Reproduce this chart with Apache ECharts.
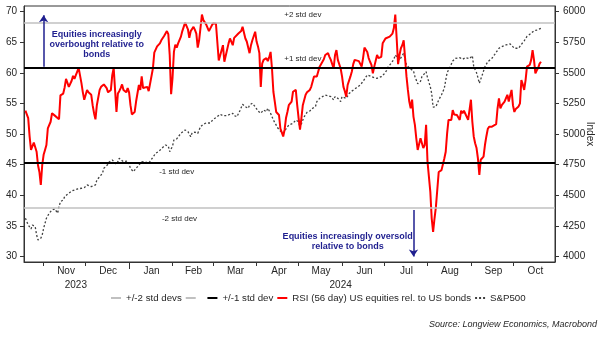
<!DOCTYPE html>
<html>
<head>
<meta charset="utf-8">
<script src="https://cdn.jsdelivr.net/npm/echarts@6/dist/echarts.min.js"></script>
<style>
  html, body { margin: 0; padding: 0; background: #ffffff; }
  #chart { width: 602px; height: 338px; }
</style>
</head>
<body>
<div id="chart"></div>
<script>
// RSI (56 day) of US equities relative to US bonds, left axis
const rsiDates = [
  '2023-10-19','2023-10-21','2023-10-22','2023-10-23','2023-10-25','2023-10-26','2023-10-27','2023-10-28','2023-10-29','2023-10-30','2023-10-31',
  '2023-11-01','2023-11-02','2023-11-03','2023-11-04','2023-11-05','2023-11-06','2023-11-07','2023-11-09','2023-11-10','2023-11-12','2023-11-13','2023-11-14','2023-11-15','2023-11-16','2023-11-17','2023-11-19','2023-11-20','2023-11-21','2023-11-22','2023-11-23','2023-11-24','2023-11-25','2023-11-26','2023-11-28','2023-11-29','2023-11-30',
  '2023-12-02','2023-12-03','2023-12-05','2023-12-06','2023-12-07','2023-12-08','2023-12-09','2023-12-11','2023-12-12','2023-12-14','2023-12-15','2023-12-16','2023-12-17','2023-12-19','2023-12-20','2023-12-21','2023-12-22','2023-12-23','2023-12-24','2023-12-25','2023-12-26','2023-12-27','2023-12-28','2023-12-30','2023-12-31',
  '2024-01-01','2024-01-02','2024-01-03','2024-01-05','2024-01-06','2024-01-08','2024-01-09','2024-01-10','2024-01-11','2024-01-12','2024-01-14','2024-01-15','2024-01-16','2024-01-18','2024-01-19','2024-01-20','2024-01-21','2024-01-23','2024-01-24','2024-01-26','2024-01-28','2024-01-29','2024-01-30','2024-01-31',
  '2024-02-01','2024-02-02','2024-02-03','2024-02-04','2024-02-05','2024-02-07','2024-02-08','2024-02-09','2024-02-10','2024-02-12','2024-02-13','2024-02-14','2024-02-16','2024-02-17','2024-02-18','2024-02-19','2024-02-20','2024-02-22','2024-02-23','2024-02-25','2024-02-26','2024-02-27','2024-02-29',
  '2024-03-01','2024-03-03','2024-03-05','2024-03-06','2024-03-08','2024-03-09','2024-03-10','2024-03-12','2024-03-13','2024-03-15','2024-03-16','2024-03-17','2024-03-19','2024-03-21','2024-03-22','2024-03-24','2024-03-25','2024-03-27','2024-03-28','2024-03-29','2024-03-31',
  '2024-04-01','2024-04-02','2024-04-03','2024-04-04','2024-04-05','2024-04-06','2024-04-08','2024-04-09','2024-04-10','2024-04-11','2024-04-12','2024-04-13','2024-04-14','2024-04-15','2024-04-17','2024-04-18','2024-04-20','2024-04-21','2024-04-22','2024-04-23','2024-04-24','2024-04-26','2024-04-27','2024-04-29','2024-04-30',
  '2024-05-01','2024-05-02','2024-05-03','2024-05-04','2024-05-06','2024-05-07','2024-05-09','2024-05-10','2024-05-12','2024-05-13','2024-05-14','2024-05-16','2024-05-17','2024-05-19','2024-05-20','2024-05-22','2024-05-23','2024-05-24','2024-05-26','2024-05-27','2024-05-28','2024-05-29','2024-05-31',
  '2024-06-01','2024-06-02','2024-06-03','2024-06-04','2024-06-05','2024-06-07','2024-06-08','2024-06-09','2024-06-10','2024-06-11','2024-06-13','2024-06-14','2024-06-15','2024-06-16','2024-06-17','2024-06-19','2024-06-20','2024-06-21','2024-06-22','2024-06-23','2024-06-24','2024-06-26','2024-06-27','2024-06-28','2024-06-29','2024-06-30',
  '2024-07-02','2024-07-03','2024-07-05','2024-07-07','2024-07-08','2024-07-09','2024-07-10','2024-07-11','2024-07-12','2024-07-13','2024-07-14','2024-07-15','2024-07-16','2024-07-17','2024-07-18','2024-07-19','2024-07-20','2024-07-21','2024-07-22','2024-07-23','2024-07-24','2024-07-25','2024-07-27','2024-07-28','2024-07-29','2024-07-30','2024-07-31',
  '2024-08-01','2024-08-03','2024-08-04','2024-08-05','2024-08-06','2024-08-07','2024-08-08','2024-08-09','2024-08-11','2024-08-12','2024-08-13','2024-08-14','2024-08-15','2024-08-16','2024-08-18','2024-08-19','2024-08-20','2024-08-21','2024-08-22','2024-08-24','2024-08-25','2024-08-26','2024-08-27','2024-08-28','2024-08-30','2024-08-31',
  '2024-09-01','2024-09-02','2024-09-03','2024-09-04','2024-09-05','2024-09-06','2024-09-07','2024-09-08','2024-09-09','2024-09-10','2024-09-11','2024-09-12','2024-09-13','2024-09-14','2024-09-16','2024-09-17','2024-09-19','2024-09-20','2024-09-21','2024-09-22','2024-09-23','2024-09-24','2024-09-25','2024-09-27','2024-09-28','2024-09-29','2024-09-30',
  '2024-10-01','2024-10-02','2024-10-03','2024-10-05','2024-10-06','2024-10-07','2024-10-08','2024-10-09','2024-10-10','2024-10-11','2024-10-12','2024-10-13','2024-10-14','2024-10-15','2024-10-16','2024-10-17','2024-10-18','2024-10-19','2024-10-20','2024-10-21'
];
const rsiValues = [
  53.8,52.6,49.6,47.4,48.6,48.5,47.1,44.9,43.8,41.7,44.9,
  46.6,47.4,48.2,50.9,51.2,52.0,53.4,53.0,52.7,52.4,56.3,56.4,56.6,57.6,59.0,57.7,58.0,58.7,59.5,59.0,59.6,60.2,60.8,58.3,56.8,55.6,
  57.2,56.8,56.4,54.7,53.4,52.4,54.7,57.2,57.7,58.1,58.3,57.5,56.8,57.2,59.6,60.8,57.2,53.6,56.6,57.0,57.5,58.1,57.2,56.8,57.5,
  56.8,54.7,53.2,53.6,55.3,58.0,57.2,59.4,57.5,57.2,57.7,57.0,57.3,60.7,63.3,63.0,64.3,64.8,65.3,66.0,66.8,66.3,62.9,56.5,
  59.1,63.4,64.6,64.1,64.8,65.9,66.8,67.5,68.2,67.1,65.7,66.8,67.5,67.0,66.4,64.1,65.3,69.5,68.6,67.9,68.1,66.8,67.7,
  68.1,68.0,62.0,61.9,64.5,61.8,61.8,64.8,65.6,64.5,65.7,66.0,66.4,66.8,67.5,65.6,65.1,63.2,64.5,65.3,66.7,
  65.1,64.3,63.2,57.7,61.5,62.1,62.4,61.9,62.5,63.4,60.7,56.9,55.3,53.6,53.1,50.9,49.6,50.7,52.6,53.6,54.7,55.3,56.9,57.2,54.7,
  52.6,50.7,52.6,54.7,56.4,56.8,57.2,57.7,59.4,59.6,59.4,61.0,61.3,62.2,62.9,63.2,62.6,62.1,60.7,62.9,63.7,62.1,60.7,
  59.4,57.7,57.0,56.1,58.0,59.4,60.2,61.4,62.1,61.8,61.9,61.7,61.0,62.4,64.1,63.4,62.4,61.8,61.3,59.9,61.0,62.9,62.4,62.1,62.6,64.8,
  65.6,65.8,65.9,66.4,67.3,69.5,65.6,61.4,62.9,64.0,64.5,65.3,62.4,59.4,57.2,55.3,54.2,55.6,52.8,51.5,49.3,47.4,49.3,49.3,47.7,48.2,51.5,
  45.5,40.6,36.2,34.0,36.2,38.1,38.1,43.8,44.1,44.1,46.0,47.1,50.1,52.3,52.3,53.9,53.2,53.2,53.1,52.3,53.8,53.4,53.8,53.5,52.3,52.6,
  55.6,52.0,49.6,48.5,47.7,46.0,43.3,45.8,46.0,46.3,48.2,49.6,50.8,51.2,51.2,51.5,51.6,54.2,55.8,54.2,54.7,55.0,55.3,56.4,55.3,56.3,57.2,
  54.7,53.6,54.1,54.5,55.0,58.8,58.1,57.2,58.8,61.0,61.2,61.3,62.1,63.7,62.1,59.9,60.4,60.8,61.5,61.8
];

// S&P500 index level, right axis
const spxDates = [
  '2023-10-19','2023-10-21','2023-10-23','2023-10-24','2023-10-26','2023-10-27','2023-10-28','2023-10-29','2023-10-30','2023-10-31',
  '2023-11-01','2023-11-03','2023-11-05','2023-11-06','2023-11-07','2023-11-09','2023-11-10','2023-11-11','2023-11-12','2023-11-13','2023-11-15','2023-11-16','2023-11-17','2023-11-18','2023-11-19','2023-11-21','2023-11-23','2023-11-25','2023-11-26','2023-11-28','2023-11-30',
  '2023-12-02','2023-12-03','2023-12-05','2023-12-06','2023-12-08','2023-12-09','2023-12-11','2023-12-13','2023-12-14','2023-12-15','2023-12-17','2023-12-18','2023-12-20','2023-12-21','2023-12-23','2023-12-24','2023-12-25','2023-12-26','2023-12-28','2023-12-29','2023-12-31',
  '2024-01-01','2024-01-02','2024-01-04','2024-01-06','2024-01-08','2024-01-10','2024-01-11','2024-01-13','2024-01-15','2024-01-16','2024-01-18','2024-01-20','2024-01-22','2024-01-23','2024-01-25','2024-01-27','2024-01-29','2024-01-30',
  '2024-02-01','2024-02-02','2024-02-04','2024-02-05','2024-02-07','2024-02-08','2024-02-10','2024-02-12','2024-02-14','2024-02-15','2024-02-17','2024-02-19','2024-02-20','2024-02-21','2024-02-23','2024-02-25','2024-02-26','2024-02-28',
  '2024-03-01','2024-03-03','2024-03-04','2024-03-06','2024-03-08','2024-03-09','2024-03-11','2024-03-13','2024-03-15','2024-03-16','2024-03-18','2024-03-19','2024-03-20','2024-03-22','2024-03-24','2024-03-26','2024-03-27','2024-03-29','2024-03-31',
  '2024-04-02','2024-04-04','2024-04-06','2024-04-08','2024-04-09','2024-04-11','2024-04-13','2024-04-15','2024-04-16','2024-04-18','2024-04-20','2024-04-22','2024-04-24','2024-04-25','2024-04-27','2024-04-29',
  '2024-05-01','2024-05-02','2024-05-04','2024-05-05','2024-05-07','2024-05-09','2024-05-11','2024-05-13','2024-05-14','2024-05-16','2024-05-18','2024-05-20','2024-05-22','2024-05-23','2024-05-24','2024-05-26','2024-05-27','2024-05-29','2024-05-31',
  '2024-06-01','2024-06-02','2024-06-04','2024-06-06','2024-06-08','2024-06-09','2024-06-11','2024-06-12','2024-06-14','2024-06-16','2024-06-19','2024-06-20','2024-06-22','2024-06-24','2024-06-26','2024-06-27','2024-06-29',
  '2024-07-01','2024-07-03','2024-07-04','2024-07-06','2024-07-08','2024-07-09','2024-07-10','2024-07-12','2024-07-15','2024-07-17','2024-07-18','2024-07-20','2024-07-22','2024-07-23','2024-07-25','2024-07-27','2024-07-28','2024-07-29','2024-07-31',
  '2024-08-01','2024-08-03','2024-08-04','2024-08-05','2024-08-06','2024-08-07','2024-08-09','2024-08-10','2024-08-11','2024-08-13','2024-08-14','2024-08-15','2024-08-17','2024-08-19','2024-08-21','2024-08-24','2024-08-26','2024-08-28','2024-08-31',
  '2024-09-02','2024-09-03','2024-09-05','2024-09-06','2024-09-07','2024-09-09','2024-09-11','2024-09-13','2024-09-16','2024-09-18','2024-09-21','2024-09-23','2024-09-26','2024-09-29',
  '2024-10-02','2024-10-05','2024-10-07','2024-10-09','2024-10-11','2024-10-14','2024-10-16','2024-10-18','2024-10-21'
];
const spxValues = [
  4312,4257,4225,4257,4243,4176,4135,4127,4149,4176,
  4230,4312,4353,4366,4380,4388,4394,4353,4407,4447,4461,4488,4502,4508,4516,4535,4543,4551,4562,4557,4562,
  4584,4589,4570,4562,4584,4625,4651,4679,4720,4733,4753,4774,4788,4796,4753,4774,4802,4796,4774,4788,4780,
  4753,4720,4692,4720,4747,4774,4780,4770,4761,4770,4810,4843,4856,4870,4890,4910,4900,4856,
  4900,4951,4960,4975,5006,5000,5033,5019,4978,5010,5015,5005,4995,5060,5080,5090,5100,5090,
  5120,5133,5120,5161,5150,5160,5150,5161,5169,5150,5141,5165,5188,5242,5223,5210,5237,5251,5223,
  5188,5169,5196,5182,5210,5169,5114,5073,5051,5024,5006,5041,5073,5060,5087,5114,
  5100,5051,5114,5141,5177,5188,5210,5223,5264,5291,5305,5318,5313,5324,5305,5278,5305,5291,5265,
  5305,5318,5291,5330,5350,5359,5375,5380,5400,5430,5482,5475,5468,5460,5455,5462,5468,
  5490,5522,5550,5577,5610,5645,5630,5604,5659,5563,5549,5530,5515,5470,5410,5430,5468,5460,5509,
  5460,5386,5330,5220,5210,5223,5278,5291,5320,5373,5440,5500,5545,5596,5618,5623,5610,5623,5615,
  5639,5549,5500,5460,5414,5480,5549,5590,5618,5650,5700,5713,5727,5736,
  5700,5700,5732,5760,5797,5822,5843,5849,5863
];

// Standard-deviation bands of the RSI
const plusTwoStd = 68.1;
const plusOneStd = 60.75;
const minusOneStd = 45.3;
const minusTwoStd = 37.95;

// Axis ticks and labels
const axisStart = '2023-10-18';
const axisEnd = '2024-10-31';
const monthTickDates = ['2023-11-01','2023-12-01','2024-01-01','2024-02-01','2024-03-01','2024-04-01','2024-05-01','2024-06-01','2024-07-01','2024-08-01','2024-09-01','2024-10-01'];
const yearStartDates = ['2024-01-01'];
const monthLabelDates = ['2023-11-17','2023-12-17','2024-01-17','2024-02-16','2024-03-17','2024-04-17','2024-05-17','2024-06-17','2024-07-17','2024-08-17','2024-09-17','2024-10-17'];
const yearLabelDates = ['2023-11-24','2024-05-31'];
const monthNames = ['Jan','Feb','Mar','Apr','May','Jun','Jul','Aug','Sep','Oct','Nov','Dec'];
const rsiTicks = [30,35,40,45,50,55,60,65,70];
const indexTicks = [4000,4250,4500,4750,5000,5250,5500,5750,6000];

const toTime = s => { const p = s.split('-').map(Number); return Date.UTC(p[0], p[1] - 1, p[2]); };

const FONT = '"Liberation Sans", Arial, Helvetica, sans-serif';
const TEXT = '#262626';
const NAVY = '#1f1f8f';
const GREY_BAND = '#c0c0c0';
const AXIS = '#333333';

const rsiData = rsiDates.map((d, i) => [toTime(d), rsiValues[i]]);
const spxData = spxDates.map((d, i) => [toTime(d), spxValues[i]]);

const chart = echarts.init(document.getElementById('chart'), null, { renderer: 'canvas' });

const noteLabel = (text, extra) => Object.assign({
  show: true, position: 'inside', formatter: text, color: TEXT, fontSize: 8, fontFamily: FONT
}, extra || {});

const timeAxisBase = {
  type: 'value', min: toTime(axisStart), max: toTime(axisEnd), splitLine: { show: false }
};

chart.setOption({
  animation: false,
  backgroundColor: '#ffffff',
  textStyle: { fontFamily: FONT },
  grid: {
    left: 24, right: 47, top: 6, bottom: 76,
    outerBoundsMode: 'none', containLabel: false,
    show: true, borderColor: AXIS, borderWidth: 1, backgroundColor: 'transparent'
  },
  legend: {
    data: ['+/-2 std devs', ' ', '+/-1 std dev', 'RSI (56 day) US equities rel. to US bonds', 'S&P500'],
    left: 110, top: 293, padding: 0,
    itemWidth: 10, itemHeight: 2, itemGap: 3,
    selectedMode: false,
    textStyle: { fontSize: 9.7, color: TEXT, fontFamily: FONT }
  },
  xAxis: [
    Object.assign({}, timeAxisBase, {
      axisLine: { show: true, lineStyle: { color: AXIS, width: 1 } },
      axisTick: { show: true, length: 4, lineStyle: { color: AXIS }, customValues: monthTickDates.map(toTime) },
      axisLabel: {
        customValues: monthLabelDates.map(toTime), margin: 4,
        fontSize: 10, color: TEXT, fontFamily: FONT,
        formatter: v => monthNames[new Date(v).getUTCMonth()]
      }
    }),
    Object.assign({}, timeAxisBase, {
      position: 'bottom', offset: 14,
      axisLine: { show: false }, axisTick: { show: false },
      axisLabel: {
        customValues: yearLabelDates.map(toTime), margin: 4,
        fontSize: 10, color: TEXT, fontFamily: FONT,
        formatter: v => String(new Date(v).getUTCFullYear())
      }
    }),
    Object.assign({}, timeAxisBase, {
      position: 'bottom',
      axisLine: { show: false },
      axisTick: { show: true, length: 7, lineStyle: { color: AXIS }, customValues: yearStartDates.map(toTime) },
      axisLabel: { show: false }
    })
  ],
  yAxis: [
    {
      type: 'value', position: 'left', min: 29.1, max: 70.9,
      axisLine: { show: true, lineStyle: { color: AXIS, width: 1 } },
      axisTick: { show: true, length: 4, lineStyle: { color: AXIS }, customValues: rsiTicks },
      axisLabel: { customValues: rsiTicks, margin: 7, fontSize: 10, color: TEXT, fontFamily: FONT },
      splitLine: { show: false }
    },
    {
      type: 'value', position: 'right', min: 3955, max: 6045,
      name: 'Index', nameLocation: 'middle', nameRotate: -90, nameGap: 30, nameMoveOverlap: false,
      nameTextStyle: { fontSize: 10, color: TEXT, fontFamily: FONT },
      axisLine: { show: true, lineStyle: { color: AXIS, width: 1 } },
      axisTick: { show: true, length: 4, lineStyle: { color: AXIS }, customValues: indexTicks },
      axisLabel: { customValues: indexTicks, margin: 8, fontSize: 10, color: TEXT, fontFamily: FONT, formatter: v => String(v) },
      splitLine: { show: false }
    }
  ],
  series: [
    {
      name: '+/-2 std devs', type: 'line', data: [], symbol: 'none',
      lineStyle: { color: GREY_BAND, width: 1.5 }, itemStyle: { color: GREY_BAND },
      markLine: { silent: true, symbol: 'none', label: { show: false },
        lineStyle: { color: GREY_BAND, width: 1.5, type: 'solid' }, data: [{ yAxis: plusTwoStd }] }
    },
    {
      name: ' ', type: 'line', data: [], symbol: 'none',
      lineStyle: { color: GREY_BAND, width: 1.5 }, itemStyle: { color: GREY_BAND },
      markLine: { silent: true, symbol: 'none', label: { show: false },
        lineStyle: { color: GREY_BAND, width: 1.5, type: 'solid' }, data: [{ yAxis: minusTwoStd }] }
    },
    {
      name: '+/-1 std dev', type: 'line', data: [], symbol: 'none',
      lineStyle: { color: '#000000', width: 2 }, itemStyle: { color: '#000000' },
      markLine: { silent: true, symbol: 'none', label: { show: false },
        lineStyle: { color: '#000000', width: 2, type: 'solid' }, data: [{ yAxis: plusOneStd }, { yAxis: minusOneStd }] }
    },
    {
      name: 'S&P500', type: 'line', xAxisIndex: 0, yAxisIndex: 1, data: spxData, symbol: 'none',
      lineStyle: { color: '#404040', width: 1.3, type: [2, 2] }, itemStyle: { color: '#404040' }, z: 3
    },
    {
      name: 'RSI (56 day) US equities rel. to US bonds', type: 'line', xAxisIndex: 0, yAxisIndex: 0,
      data: rsiData, symbol: 'none',
      lineStyle: { color: '#ff0000', width: 2 }, itemStyle: { color: '#ff0000' }, z: 4
    },
    {
      name: 'notes', type: 'line', data: [], symbol: 'none', z: 5,
      markLine: {
        silent: true, symbol: ['none', 'arrow'], symbolSize: 7, label: { show: false },
        lineStyle: { color: NAVY, width: 1.5, type: 'solid' },
        data: [
          [{ coord: [toTime('2023-11-01'), 61.0] }, { coord: [toTime('2023-11-01'), 69.4] }],
          [{ coord: [toTime('2024-07-22'), 37.6] }, { coord: [toTime('2024-07-22'), 30.0] }]
        ]
      },
      markPoint: {
        silent: true, symbol: 'circle', symbolSize: 0,
        data: [
          { coord: [toTime('2023-12-09'), 64.6], label: noteLabel('Equities increasingly\noverbought relative to\nbonds', { color: NAVY, fontWeight: 'bold', fontSize: 9, lineHeight: 10 }) },
          { coord: [toTime('2024-06-05'), 32.4], label: noteLabel('Equities increasingly oversold\nrelative to bonds', { color: NAVY, fontWeight: 'bold', fontSize: 9, lineHeight: 10 }) },
          { coord: [toTime('2024-05-04'), 69.43], label: noteLabel('+2 std dev') },
          { coord: [toTime('2024-05-04'), 62.36], label: noteLabel('+1 std dev') },
          { coord: [toTime('2024-02-04'), 43.75], label: noteLabel('-1 std dev') },
          { coord: [toTime('2024-02-06'), 36.12], label: noteLabel('-2 std dev') }
        ]
      }
    }
  ],
  graphic: [
    {
      type: 'text', right: 5, top: 320, silent: true,
      style: { text: 'Source: Longview Economics, Macrobond', fill: TEXT, fontSize: 9, fontStyle: 'italic', fontFamily: FONT }
    }
  ]
});
</script>
</body>
</html>
